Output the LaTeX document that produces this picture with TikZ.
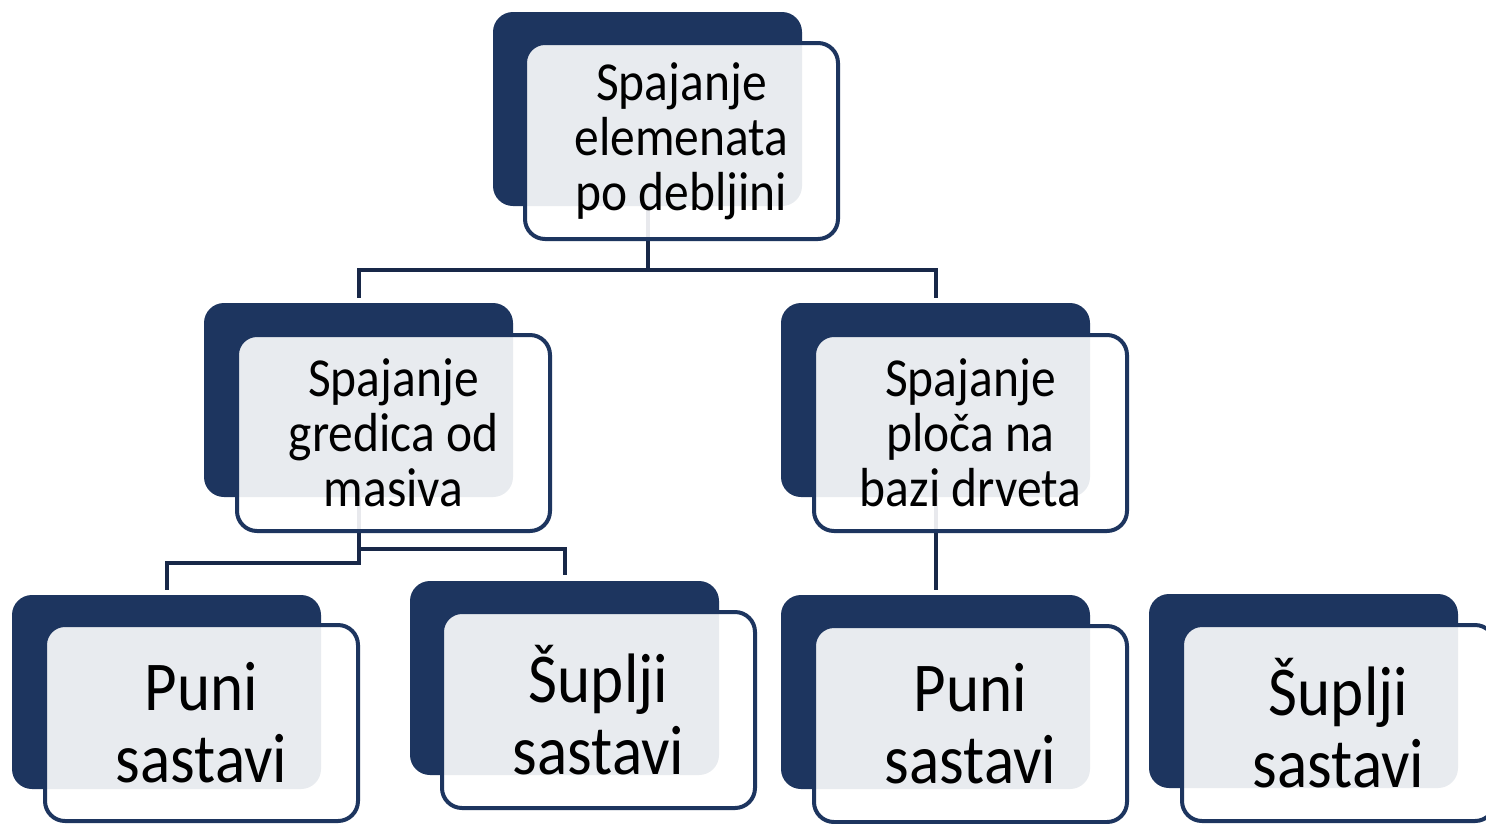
\documentclass[tikz,border=0pt]{standalone}
\usepackage{fontspec}
\setmainfont{Carlito}[FakeStretch=0.9]
\usetikzlibrary{calc}
\definecolor{navy}{RGB}{29,53,95}
\definecolor{connc}{RGB}{24,40,72}
\tikzset{
  darkbox/.style={rectangle, rounded corners=20pt, fill=navy, draw=none,
    minimum width=309pt, minimum height=194pt, inner sep=0pt, outer sep=0pt, anchor=north west},
  frontbox/.style={rectangle, rounded corners=20pt, draw=navy, line width=4pt,
    fill=white, fill opacity=0.9, text opacity=1, text=black, align=center,
    minimum width=313pt, minimum height=196pt, inner sep=0pt, outer sep=0pt, anchor=north west},
  midtext/.style={font=\fontsize{55pt}{55pt}\selectfont},
  leaftext/.style={font=\fontsize{70pt}{72pt}\selectfont},
  conn/.style={draw=connc, line width=4pt}
}
\begin{document}
\begin{tikzpicture}[x=1pt,y=-1pt]
\useasboundingbox[fill=white] (0,0) rectangle (1486,823);
% dark back boxes
\node[darkbox] (rootd) at (493,12) {};
\node[darkbox] (l2ld) at (204,303) {};
\node[darkbox] (l2rd) at (781,303) {};
\node[darkbox] (l3ad) at (12,595) {};
\node[darkbox] (l3bd) at (410,581) {};
\node[darkbox] (l3cd) at (781,595) {};
\node[darkbox] (l3dd) at (1149,594) {};
% connectors
\coordinate (e1) at ($(rootd.south)+(0,-64pt)$);
\draw[conn] (rootd.south) -- (e1) -| ([yshift=5pt]l2ld.north);
\draw[conn] (e1) -| ([yshift=5pt]l2rd.north);
\coordinate (e2) at ($(l2ld.south)+(0,-66pt)$);
\coordinate (e3) at ($(l2ld.south)+(0,-52pt)$);
\draw[conn] (l2ld.south) -- (e2) -| ([yshift=5pt]l3ad.north);
\draw[conn] (e3) -| ([yshift=6pt]l3bd.north);
\draw[conn] (l2rd.south) -- ([yshift=5pt]l3cd.north);
% front boxes with text
\node[frontbox, midtext] (root) at (525,43) {Spajanje\\elemenata\\po debljini};
\node[frontbox, midtext] (l2l) at (237,335) {Spajanje\\gredica od\\masiva};
\node[frontbox, midtext] (l2r) at (814,335) {Spajanje\\ploča na\\bazi drveta};
\node[frontbox, leaftext] (l3a) at (45,625) {Puni\\sastavi};
\node[frontbox, leaftext] (l3b) at (442,612) {Šuplji\\sastavi};
\node[frontbox, leaftext] (l3c) at (814,626) {Puni\\sastavi};
\node[frontbox, leaftext] (l3d) at (1182,625) {Šuplji\\sastavi};
\end{tikzpicture}
\end{document}
